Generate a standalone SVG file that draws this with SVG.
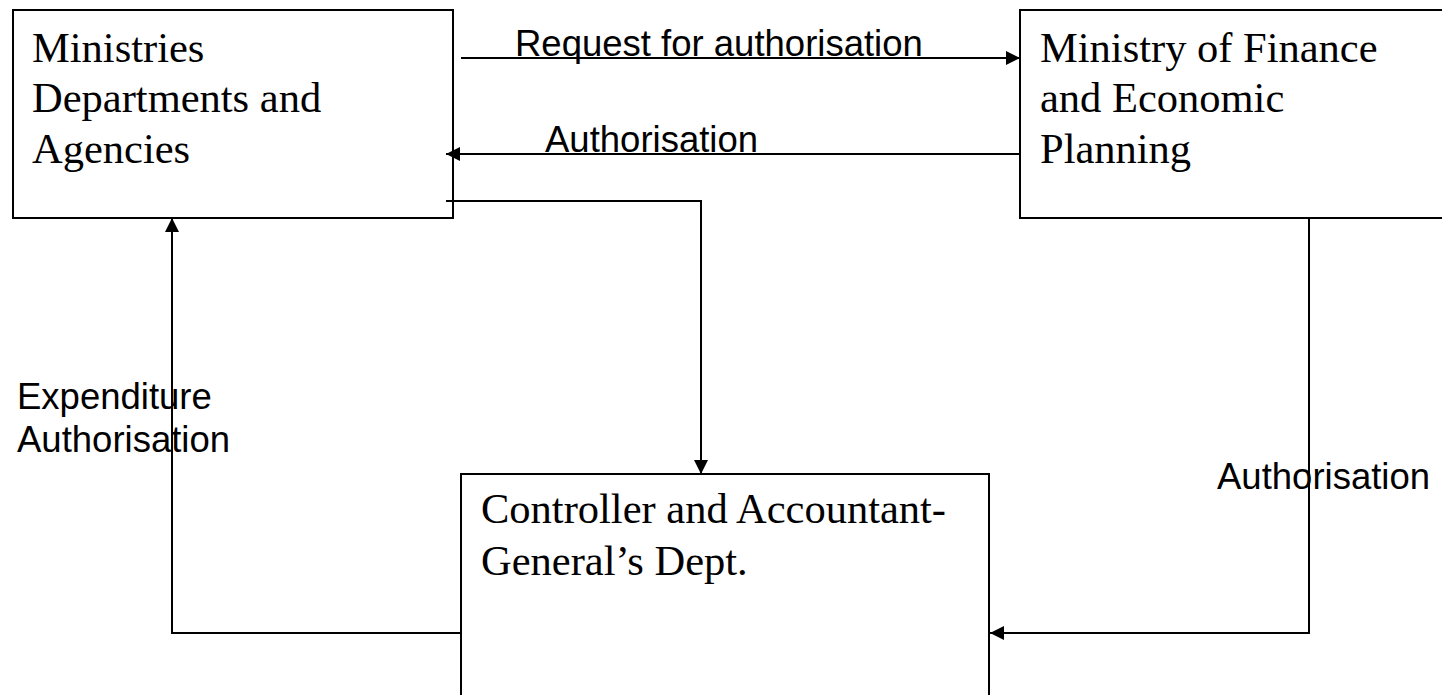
<svg xmlns="http://www.w3.org/2000/svg" width="1442" height="695" viewBox="0 0 1442 695">
<style>
.box{fill:#fff;stroke:#000;stroke-width:2}
.nt{font-family:"Liberation Serif","Times New Roman",serif;font-size:42.5px;fill:#000}
.lb{font-family:"Liberation Sans",Arial,sans-serif;font-size:36.5px;fill:#000}
.cn{fill:none;stroke:#000;stroke-width:2}
</style>
<defs>
<marker id="ah" markerUnits="userSpaceOnUse" markerWidth="15" markerHeight="14" refX="14" refY="7" orient="auto">
<path d="M0,0 L14,7 L0,14 z" fill="#000"/>
</marker>
</defs>
<rect width="1442" height="695" fill="#fff"/>
<g id="mda">
<rect class="box" x="13" y="10" width="440" height="208"/>
<text class="nt" x="32" y="62">Ministries</text>
<text class="nt" x="32" y="112">Departments and</text>
<text class="nt" x="32" y="163">Agencies</text>
</g>
<g id="mofep">
<rect class="box" x="1020" y="10" width="440" height="208"/>
<text class="nt" x="1040" y="62">Ministry of Finance</text>
<text class="nt" x="1040" y="112">and Economic</text>
<text class="nt" x="1040" y="163">Planning</text>
</g>
<g id="cagd">
<rect class="box" x="461" y="474" width="528" height="240"/>
<text class="nt" x="481" y="523">Controller and Accountant-</text>
<text class="nt" x="481" y="575">General’s Dept.</text>
</g>
<g id="connectors">
<line class="cn" x1="461" y1="58" x2="1020" y2="58" marker-end="url(#ah)"/>
<line class="cn" x1="1020" y1="154" x2="446" y2="154" marker-end="url(#ah)"/>
<polyline class="cn" points="446,201 701,201 701,474" marker-end="url(#ah)"/>
<polyline class="cn" points="1309,218 1309,633 990,633" marker-end="url(#ah)"/>
<polyline class="cn" points="461,633 172,633 172,218" marker-end="url(#ah)"/>
</g>
<g id="labels">
<text class="lb" x="515" y="56">Request for authorisation</text>
<text class="lb" x="545" y="152">Authorisation</text>
<text class="lb" x="17" y="409">Expenditure</text>
<text class="lb" x="17" y="452">Authorisation</text>
<text class="lb" x="1217" y="489">Authorisation</text>
</g>
</svg>
